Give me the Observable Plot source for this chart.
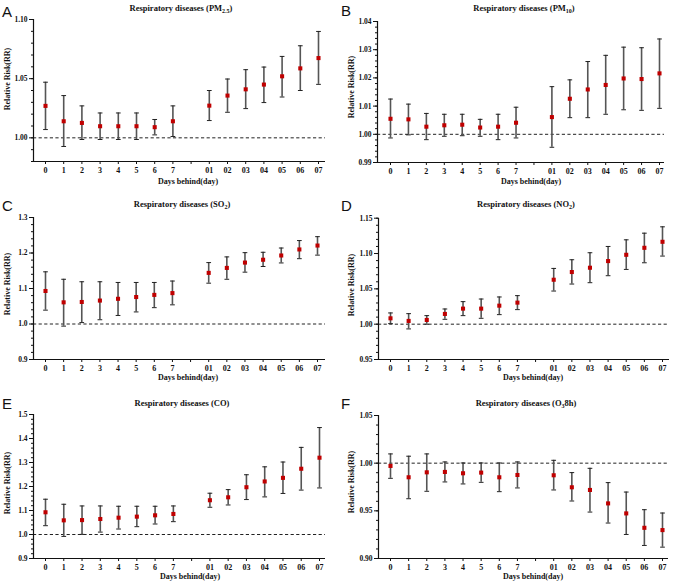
<!DOCTYPE html>
<html>
<head>
<meta charset="utf-8">
<script src="https://cdn.jsdelivr.net/npm/d3@7"></script>
<script src="https://cdn.jsdelivr.net/npm/@observablehq/plot@0.6"></script>
<style>
  html, body { margin: 0; padding: 0; background: #fff; }
  #root { position: relative; width: 679px; height: 584px; overflow: hidden; font-family: 'Liberation Serif', 'Times New Roman', serif; }
  .panel { position: absolute; }
  .letter { position: absolute; font-family: 'Liberation Sans', Arial, sans-serif; font-size: 15px; color: #111; line-height: 1; }
  .title { position: absolute; transform: translate(-50%, -50%); font-weight: bold; font-size: 8.5px; white-space: nowrap; color: #111; line-height: 1; }
  .title sub { font-size: 6px; vertical-align: -2px; line-height: 0; }
  .xt { position: absolute; transform: translate(-50%, -50%); font-weight: bold; font-size: 8px; white-space: nowrap; color: #111; line-height: 1; }
  .yt { position: absolute; transform: translate(-50%, -50%) rotate(-90deg); font-weight: bold; font-size: 8px; white-space: nowrap; color: #111; line-height: 1; }
</style>
</head>
<body>
<div id="root"></div>
<script>
// ---------- data ----------
const lags = ["0","1","2","3","4","5","6","7","01","02","03","04","05","06","07"];
const letters = ["A","B","C","D","E","F"];
const titles = [
  "Respiratory diseases (PM<sub>2.5</sub>)",
  "Respiratory diseases (PM<sub>10</sub>)",
  "Respiratory diseases (SO<sub>2</sub>)",
  "Respiratory diseases (NO<sub>2</sub>)",
  "Respiratory diseases (CO)",
  "Respiratory diseases (O<sub>3</sub>8h)"
];
const xTitle = "Days behind(day)";
const yTitle = "Relative Risk(RR)";

const pm25RR = [1.027,1.014,1.0126,1.0098,1.0098,1.0098,1.009,1.014,1.0272,1.0357,1.041,1.045,1.052,1.0587,1.0674];
const pm25Lo = [1.007,0.9927,0.9986,0.9986,0.9986,0.9986,1.0025,1.0011,1.0146,1.0216,1.0247,1.0298,1.0345,1.040,1.0452];
const pm25Hi = [1.047,1.0357,1.027,1.021,1.021,1.021,1.0155,1.027,1.040,1.0497,1.0576,1.0598,1.0688,1.0778,1.0899];

const pm10RR = [1.0055,1.0053,1.0027,1.0032,1.0034,1.0024,1.0027,1.0041,1.0061,1.0126,1.0159,1.0175,1.0198,1.0196,1.0216];
const pm10Lo = [0.9987,0.9998,0.9981,0.9993,0.9995,0.9993,0.9981,0.9987,0.9954,1.0059,1.0059,1.0071,1.0087,1.0085,1.0092];
const pm10Hi = [1.0125,1.0107,1.0074,1.0071,1.0071,1.0053,1.0071,1.0096,1.0169,1.0193,1.0258,1.028,1.0309,1.0307,1.0338];

const so2RR = [1.093,1.061,1.062,1.066,1.071,1.076,1.082,1.087,1.144,1.158,1.173,1.181,1.193,1.210,1.221];
const so2Lo = [1.039,0.994,1.004,1.012,1.024,1.034,1.046,1.054,1.115,1.126,1.146,1.162,1.172,1.184,1.194];
const so2Hi = [1.147,1.126,1.119,1.119,1.117,1.117,1.117,1.121,1.173,1.189,1.201,1.202,1.214,1.235,1.246];

const no2RR = [1.0083,1.0046,1.006,1.0145,1.022,1.022,1.0262,1.0305,1.0629,1.0738,1.0799,1.0893,1.0982,1.1081,1.1166];
const no2Lo = [1.0008,0.9933,0.9999,1.0069,1.0121,1.0083,1.0135,1.0206,1.0469,1.0568,1.0587,1.0686,1.0775,1.0869,1.0964];
const no2Hi = [1.0159,1.0149,1.0121,1.0215,1.0319,1.0356,1.0385,1.0404,1.0789,1.0912,1.1011,1.110,1.1194,1.1288,1.1378];

const coRR = [1.0926,1.059,1.060,1.0646,1.070,1.0744,1.080,1.0856,1.1428,1.155,1.197,1.221,1.236,1.274,1.320];
const coLo = [1.0367,0.992,1.0005,1.010,1.0228,1.0326,1.0437,1.0535,1.1135,1.123,1.1456,1.1567,1.171,1.185,1.194];
const coHi = [1.147,1.126,1.119,1.119,1.1177,1.1177,1.1177,1.119,1.172,1.187,1.249,1.282,1.302,1.363,1.4456];

const o3RR = [0.9971,0.9852,0.9904,0.9908,0.9894,0.9901,0.9852,0.9876,0.9873,0.9747,0.9719,0.9578,0.9473,0.9322,0.9298];
const o3Lo = [0.9841,0.9627,0.9705,0.9803,0.9782,0.9799,0.9701,0.974,0.9719,0.9603,0.9487,0.9372,0.9252,0.9137,0.9119];
const o3Hi = [1.0097,1.0073,1.0097,1.0013,1.0002,1.0002,1.0002,1.0013,1.003,0.9901,0.9946,0.9796,0.9697,0.9512,0.9477];

// y-axis tick values
const yTicksA = [1.00,1.05,1.10];           const yMinorA = d3.range(0,13).map(i => 0.98 + i*0.01);
const yTicksB = [0.99,1.00,1.01,1.02,1.03,1.04]; const yMinorB = d3.range(0,26).map(i => 0.99 + i*0.002);
const yTicksC = [0.9,1.0,1.1,1.2,1.3];      const yMinorC = d3.range(0,21).map(i => 0.9 + i*0.02);
const yTicksD = [0.95,1.00,1.05,1.10,1.15]; const yMinorD = d3.range(0,21).map(i => 0.95 + i*0.01);
const yTicksE = [0.9,1.0,1.1,1.2,1.3,1.4,1.5]; const yMinorE = d3.range(0,31).map(i => 0.9 + i*0.02);
const yTicksF = [0.90,0.95,1.00,1.05];      const yMinorF = d3.range(0,16).map(i => 0.90 + i*0.01);

// ---------- layout (pixels) ----------
const panels = [
  {rr: pm25RR, lo: pm25Lo, hi: pm25Hi, yDom: [0.98,1.10], ticks: yTicksA, minor: yMinorA, fmt: ".2f",
   ox: 0, oy: 0, w: 339, h: 195, left: 33, right: 325, top: 19, bottom: 161, x0: 45, x15: 318,
   lx: 2, ly: 4, tx: 181, ty: 8, xtx: 188, xty: 182, ytx: 8, yty: 79},
  {rr: pm10RR, lo: pm10Lo, hi: pm10Hi, yDom: [0.99,1.04], ticks: yTicksB, minor: yMinorB, fmt: ".2f",
   ox: 339, oy: 0, w: 340, h: 195, left: 38, right: 325, top: 21, bottom: 162, x0: 51, x15: 320,
   lx: 2, ly: 3, tx: 185, ty: 8, xtx: 192, xty: 182, ytx: 13, yty: 87},
  {rr: so2RR, lo: so2Lo, hi: so2Hi, yDom: [0.9,1.3], ticks: yTicksC, minor: yMinorC, fmt: ".1f",
   ox: 0, oy: 195, w: 339, h: 195, left: 33, right: 325, top: 22, bottom: 164, x0: 45, x15: 317,
   lx: 2, ly: 3, tx: 182, ty: 9, xtx: 188, xty: 183, ytx: 8, yty: 89},
  {rr: no2RR, lo: no2Lo, hi: no2Hi, yDom: [0.95,1.15], ticks: yTicksD, minor: yMinorD, fmt: ".2f",
   ox: 339, oy: 195, w: 340, h: 195, left: 39, right: 330, top: 22.7, bottom: 164, x0: 51, x15: 323,
   lx: 2, ly: 3, tx: 187, ty: 9, xtx: 194, xty: 183, ytx: 13, yty: 90},
  {rr: coRR, lo: coLo, hi: coHi, yDom: [0.9,1.5], ticks: yTicksE, minor: yMinorE, fmt: ".1f",
   ox: 0, oy: 390, w: 339, h: 194, left: 33, right: 325, top: 24, bottom: 168, x0: 45, x15: 319,
   lx: 2, ly: 6, tx: 182, ty: 13, xtx: 190, xty: 187, ytx: 8, yty: 93},
  {rr: o3RR, lo: o3Lo, hi: o3Hi, yDom: [0.90,1.05], ticks: yTicksF, minor: yMinorF, fmt: ".2f",
   ox: 339, oy: 390, w: 340, h: 194, left: 39, right: 329, top: 25, bottom: 168, x0: 51, x15: 323,
   lx: 2, ly: 6, tx: 187, ty: 13, xtx: 194, xty: 187, ytx: 13, yty: 92}
];

const root = document.getElementById("root");
const posOf = i => (i < 8 ? i : i + 1);
const labelAt = p => (p < 8 ? lags[p] : p === 8 ? "" : lags[p - 1]);

panels.forEach((P, k) => {
  const rows = lags.map((lag, i) => ({lag, pos: posOf(i), rr: P.rr[i], lo: P.lo[i], hi: P.hi[i]}));
  const s = (P.x15 - P.x0) / 15;
  const xDom = [(P.left - P.x0) / s, 15 + (P.right - P.x15) / s];
  const capW = 0.13;

  const chart = Plot.plot({
    width: P.w, height: P.h,
    marginLeft: P.left, marginRight: P.w - P.right, marginTop: P.top, marginBottom: P.h - P.bottom,
    style: {fontFamily: "'Liberation Serif', 'Times New Roman', serif", fontSize: "8px", color: "#111", background: "transparent", overflow: "visible"},
    x: {type: "linear", domain: xDom, label: null},
    y: {type: "linear", domain: P.yDom, label: null},
    marks: [
      Plot.ruleY([1], {stroke: "#222", strokeWidth: 1, strokeDasharray: "3.2,2.4"}),
      Plot.ruleX(rows, {x: "pos", y1: "lo", y2: "hi", stroke: "#555", strokeWidth: 1.6}),
      Plot.link(rows, {x1: d => d.pos - capW, x2: d => d.pos + capW, y1: "hi", y2: "hi", stroke: "#222", strokeWidth: 1}),
      Plot.link(rows, {x1: d => d.pos - capW, x2: d => d.pos + capW, y1: "lo", y2: "lo", stroke: "#222", strokeWidth: 1}),
      Plot.dot(rows, {x: "pos", y: "rr", fill: "#c00000", r: 2.3, symbol: "square"}),
      Plot.axisY(P.minor, {tickSize: 2, tickFormat: () => "", label: null, stroke: "#111"}),
      Plot.axisY(P.ticks, {tickSize: 4, tickPadding: 2, tickFormat: d3.format(P.fmt), label: null, fontWeight: "bold", fontSize: 7.5, stroke: "#111", fill: "#111"}),
      Plot.axisX(d3.range(16), {tickSize: 3, tickPadding: 3, tickFormat: labelAt, label: null, fontWeight: "bold", fontSize: 8, stroke: "#111", fill: "#111"}),
      Plot.ruleX([xDom[0]], {stroke: "#111", strokeWidth: 1.2}),
      Plot.ruleY([P.yDom[0]], {stroke: "#111", strokeWidth: 1.2})
    ]
  });

  const wrap = document.createElement("div");
  wrap.className = "panel";
  wrap.style.left = P.ox + "px";
  wrap.style.top = P.oy + "px";
  wrap.style.width = P.w + "px";
  wrap.style.height = P.h + "px";
  wrap.appendChild(chart);

  const L = document.createElement("div");
  L.className = "letter"; L.textContent = letters[k];
  L.style.left = P.lx + "px"; L.style.top = P.ly + "px";
  wrap.appendChild(L);

  const T = document.createElement("div");
  T.className = "title"; T.innerHTML = titles[k];
  T.style.left = P.tx + "px"; T.style.top = P.ty + "px";
  wrap.appendChild(T);

  const XT = document.createElement("div");
  XT.className = "xt"; XT.textContent = xTitle;
  XT.style.left = P.xtx + "px"; XT.style.top = P.xty + "px";
  wrap.appendChild(XT);

  const YT = document.createElement("div");
  YT.className = "yt"; YT.textContent = yTitle;
  YT.style.left = P.ytx + "px"; YT.style.top = P.yty + "px";
  wrap.appendChild(YT);

  root.appendChild(wrap);
});
</script>
</body>
</html>
